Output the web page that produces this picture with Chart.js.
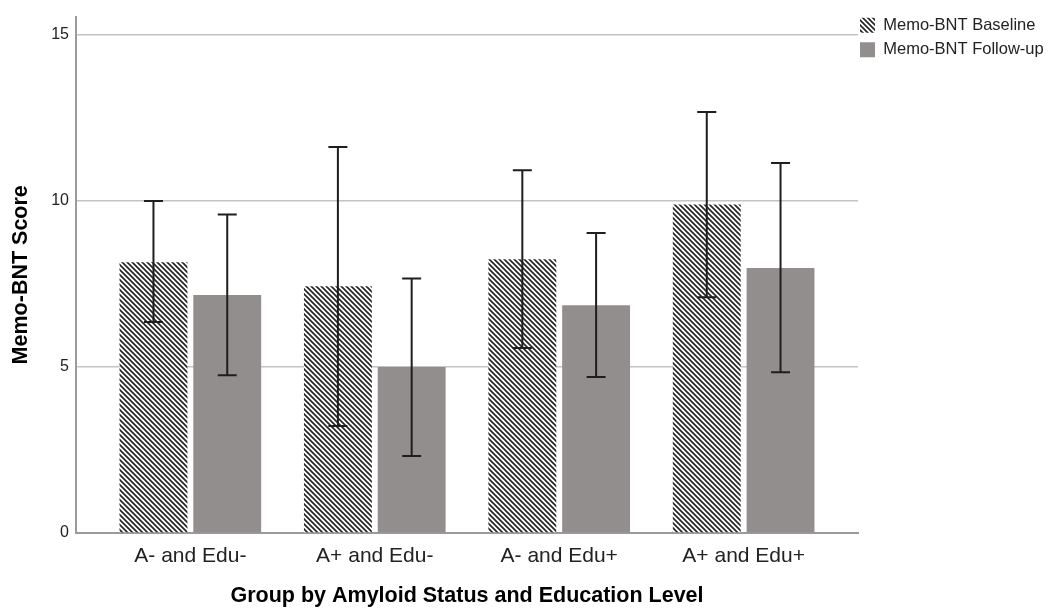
<!DOCTYPE html>
<html>
<head>
<meta charset="utf-8">
<script src="https://cdn.jsdelivr.net/npm/chart.js@4/dist/chart.umd.min.js"></script>
<style>
  html, body { margin: 0; padding: 0; background: #ffffff; }
  #wrap { width: 1052px; height: 609px; }
</style>
</head>
<body>
<div id="wrap"><canvas id="c" width="1052" height="609"></canvas></div>
<script>
// ---- data ----
const categories = ["A- and Edu-", "A+ and Edu-", "A- and Edu+", "A+ and Edu+"];
const seriesNames = ["Memo-BNT Baseline", "Memo-BNT Follow-up"];
const baselineMean = [8.15, 7.43, 8.24, 9.89];
const baselineLow  = [6.35, 3.22, 5.57, 7.10];
const baselineHigh = [10.00, 11.62, 10.92, 12.68];
const followMean = [7.17, 5.00, 6.86, 7.98];
const followLow  = [4.75, 2.32, 4.70, 4.84];
const followHigh = [9.59, 7.66, 9.03, 11.14];
const yTicks = [0, 5, 10, 15];
const yTitle = "Memo-BNT Score";
const xTitle = "Group by Amyloid Status and Education Level";

// ---- styles ----
const FONT = "'Liberation Sans', Arial, sans-serif";
const followColor = "#938e8e";

function makeHatch() {
  const s = 5;
  const c = document.createElement('canvas');
  c.width = s; c.height = s;
  const g = c.getContext('2d');
  g.fillStyle = '#ffffff';
  g.fillRect(0, 0, s, s);
  g.strokeStyle = '#262626';
  g.lineWidth = 1.7;
  for (let k = -1; k <= 1; k++) {
    g.beginPath();
    g.moveTo(k * s - 1, -1);
    g.lineTo(k * s + s + 1, s + 1);
    g.stroke();
  }
  return g.createPattern(c, 'repeat');
}
const hatch = makeHatch();

const toPts = arr => arr.map((v, i) => ({ x: i, y: v }));
const errLow = [baselineLow, followLow];
const errHigh = [baselineHigh, followHigh];

const errorBars = {
  id: 'errorBars',
  afterDatasetsDraw(chart) {
    const ctx = chart.ctx;
    const y = chart.scales.y;
    ctx.save();
    ctx.strokeStyle = '#1e1e1e';
    ctx.lineWidth = 2;
    chart.data.datasets.forEach((ds, di) => {
      const meta = chart.getDatasetMeta(di);
      meta.data.forEach((bar, i) => {
        const x = bar.x;
        const yl = y.getPixelForValue(errLow[di][i]);
        const yh = y.getPixelForValue(errHigh[di][i]);
        const hw = 9.5;
        ctx.beginPath();
        ctx.moveTo(x, yl); ctx.lineTo(x, yh);
        ctx.moveTo(x - hw, yh); ctx.lineTo(x + hw, yh);
        ctx.moveTo(x - hw, yl); ctx.lineTo(x + hw, yl);
        ctx.stroke();
      });
    });
    ctx.restore();
  }
};

const shiftLegend = {
  id: 'shiftLegend',
  afterLayout(chart) {
    const l = chart.legend;
    if (!l) return;
    l.left -= 6; l.right -= 6;
    l.top -= 6; l.bottom -= 6;
  }
};

new Chart(document.getElementById('c'), {
  type: 'bar',
  data: {
    datasets: [
      { label: seriesNames[0], data: toPts(baselineMean), backgroundColor: hatch, borderWidth: 0 },
      { label: seriesNames[1], data: toPts(followMean), backgroundColor: followColor, borderWidth: 0 }
    ]
  },
  options: {
    responsive: false,
    animation: false,
    devicePixelRatio: 1,
    categoryPercentage: 0.8,
    barPercentage: 0.92,
    layout: { padding: { top: 15, left: 0, right: 0, bottom: 0 } },
    plugins: {
      tooltip: { enabled: false },
      legend: {
        position: 'right',
        align: 'start',
        maxWidth: 194,
        labels: {
          boxWidth: 15,
          boxHeight: 15,
          padding: 8,
          color: '#222',
          font: { family: FONT, size: 16.5 }
        }
      }
    },
    scales: {
      x: {
        type: 'linear',
        offset: false,
        min: -0.62,
        max: 3.62,
        grid: { display: false, drawTicks: false, offset: false },
        border: { display: true, color: '#9a9a9a', width: 2 },
        afterBuildTicks: s => { s.ticks = categories.map((c, i) => ({ value: i })); },
        afterFit: s => { s.height = 76; },
        ticks: {
          padding: 11,
          color: '#222',
          font: { family: FONT, size: 21 },
          maxRotation: 0,
          callback: v => categories[v]
        },
        title: {
          display: true,
          text: xTitle,
          color: '#000',
          font: { family: FONT, size: 21.5, weight: 'bold' },
          padding: { top: 0, bottom: 0 }
        }
      },
      y: {
        min: 0,
        max: 15.55,
        grid: { color: '#c4c4c4', lineWidth: 1.5, drawTicks: false },
        border: { display: true, color: '#9a9a9a', width: 2 },
        afterBuildTicks: s => { s.ticks = yTicks.map(v => ({ value: v })); },
        afterFit: s => { s.width = 76; },
        ticks: {
          padding: 7,
          color: '#222',
          font: { family: FONT, size: 16 }
        },
        title: {
          display: true,
          text: yTitle,
          color: '#000',
          font: { family: FONT, size: 21.5, weight: 'bold' },
          padding: { top: 8, bottom: 0 }
        }
      }
    }
  },
  plugins: [errorBars, shiftLegend]
});
</script>
</body>
</html>
